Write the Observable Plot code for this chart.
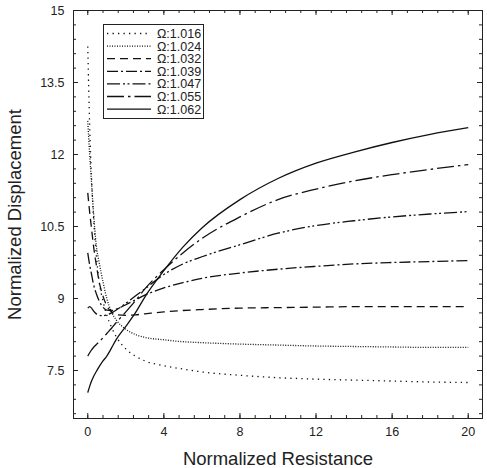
<!DOCTYPE html>
<html>
<head>
<meta charset="utf-8">
<script src="https://cdn.jsdelivr.net/npm/d3@7"></script>
<script src="https://cdn.jsdelivr.net/npm/@observablehq/plot@0.6"></script>
<style>
  html, body { margin: 0; padding: 0; background: #fff; }
  #wrap { position: relative; width: 487px; height: 468px; font-family: "Liberation Sans", Arial, Helvetica, sans-serif; }
  #legend { position: absolute; left: 103px; top: 24px; }
</style>
</head>
<body>
<div id="wrap"><div id="chart"></div><div id="legend"></div></div>
<script>
// ---- data ----
const resistance = [0, 0.1, 0.2, 0.3, 0.45, 0.6, 0.8, 1, 1.25, 1.5, 2, 2.5, 3, 4, 5, 6, 8, 10, 12, 14, 16, 18, 20];
const omegas = ["1.016", "1.024", "1.032", "1.039", "1.047", "1.055", "1.062"];
const disp1016 = [14.25, 12.6, 11.5, 10.7, 9.9, 9.35, 8.95, 8.65, 8.4, 8.2, 7.95, 7.8, 7.7, 7.6, 7.53, 7.47, 7.4, 7.35, 7.32, 7.3, 7.28, 7.26, 7.25];
const disp1024 = [12.7, 12.0, 11.4, 10.8, 10.1, 9.75, 9.35, 9.0, 8.72, 8.55, 8.36, 8.25, 8.19, 8.14, 8.1, 8.08, 8.05, 8.03, 8.01, 8.0, 7.99, 7.98, 7.98];
const disp1032 = [11.2, 10.8, 10.45, 10.1, 9.7, 9.35, 9.05, 8.85, 8.72, 8.66, 8.65, 8.66, 8.68, 8.72, 8.75, 8.77, 8.8, 8.81, 8.82, 8.83, 8.83, 8.83, 8.83];
const disp1039 = [9.95, 9.7, 9.5, 9.3, 9.1, 8.95, 8.82, 8.76, 8.75, 8.78, 8.87, 8.97, 9.07, 9.22, 9.33, 9.42, 9.53, 9.61, 9.67, 9.72, 9.75, 9.77, 9.79];
const disp1047 = [8.8, 8.83, 8.8, 8.74, 8.68, 8.65, 8.64, 8.66, 8.7, 8.76, 8.9, 9.05, 9.2, 9.5, 9.72, 9.87, 10.12, 10.36, 10.52, 10.62, 10.7, 10.76, 10.81];
const disp1055 = [7.8, 7.87, 7.93, 7.98, 8.04, 8.1, 8.18, 8.27, 8.38, 8.5, 8.72, 8.95, 9.2, 9.6, 9.95, 10.25, 10.7, 11.06, 11.28, 11.45, 11.58, 11.69, 11.79];
const disp1062 = [7.04, 7.17, 7.28, 7.37, 7.48, 7.58, 7.7, 7.8, 7.97, 8.15, 8.42, 8.7, 9.03, 9.58, 10.07, 10.47, 11.06, 11.5, 11.82, 12.05, 12.25, 12.42, 12.56];
const series = [disp1016, disp1024, disp1032, disp1039, disp1047, disp1055, disp1062];
const xTicks = [0, 4, 8, 12, 16, 20];
const yTicks = [7.5, 9, 10.5, 12, 13.5, 15];
const xTickLabels = ["0", "4", "8", "12", "16", "20"];
const yTickLabels = ["7.5", "9", "10.5", "12", "13.5", "15"];

// ---- styles ----
const dashes = ["1.3,4.2", "1,1.5", "8,5", "11,3,2,3", "13,3,2,2.5,2,3", "17,4,2.5,4", null];
const FONT = '"Liberation Sans", Arial, Helvetica, sans-serif';
const W = 487, H = 468, mL = 73, mR = 5, mT = 10, mB = 50;
const xDom = [-0.75, 20.75], yDom = [6.5, 15];
const pxX = (xDom[1] - xDom[0]) / (W - mL - mR);
const pxY = (yDom[1] - yDom[0]) / (H - mT - mB);
const xMinor = d3.range(0, 20.001, 0.8).filter(v => v > xDom[0] && v < xDom[1]);
const yMinor = d3.range(6.6, 15.001, 0.3).filter(v => v > yDom[0] && v < yDom[1]);

const rowsFor = i => resistance.map((r, j) => ({r, d: series[i][j]}));

const lineMarks = series.map((s, i) => Plot.line(rowsFor(i), {
  x: "r", y: "d", curve: "monotone-x", stroke: "#111", strokeWidth: 1.3,
  strokeDasharray: dashes[i] || undefined, strokeLinecap: "butt"
}));

const tickMarks = [
  Plot.ruleX(xTicks, {y1: yDom[0], y2: yDom[0] + 5 * pxY, stroke: "#222"}),
  Plot.ruleX(xTicks, {y1: yDom[1], y2: yDom[1] - 5 * pxY, stroke: "#222"}),
  Plot.ruleX(xMinor, {y1: yDom[0], y2: yDom[0] + 3 * pxY, stroke: "#222"}),
  Plot.ruleX(xMinor, {y1: yDom[1], y2: yDom[1] - 3 * pxY, stroke: "#222"}),
  Plot.ruleY(yTicks, {x1: xDom[0], x2: xDom[0] + 5 * pxX, stroke: "#222"}),
  Plot.ruleY(yTicks, {x1: xDom[1], x2: xDom[1] - 5 * pxX, stroke: "#222"}),
  Plot.ruleY(yMinor, {x1: xDom[0], x2: xDom[0] + 3 * pxX, stroke: "#222"}),
  Plot.ruleY(yMinor, {x1: xDom[1], x2: xDom[1] - 3 * pxX, stroke: "#222"})
];

const chart = Plot.plot({
  width: W, height: H,
  marginLeft: mL, marginRight: mR, marginTop: mT, marginBottom: mB,
  style: {fontFamily: FONT, fontSize: "12.5px", color: "#222", background: "#fff"},
  x: {domain: xDom},
  y: {domain: yDom},
  marks: [
    ...lineMarks,
    ...tickMarks,
    Plot.frame({stroke: "#222", strokeWidth: 1}),
    Plot.axisX(xTicks, {tickSize: 0, tickPadding: 9, label: null, tickFormat: (d, i) => xTickLabels[i], fontSize: 12.5}),
    Plot.axisY(yTicks, {tickSize: 0, tickPadding: 9, label: null, tickFormat: (d, i) => yTickLabels[i], fontSize: 12.5}),
    Plot.text(["Normalized Resistance"], {frameAnchor: "bottom", textAnchor: "middle", dy: 46, text: d => d, fontSize: 18.5, fill: "#222", style: "word-spacing: 5px"}),
    Plot.text(["Normalized Displacement"], {frameAnchor: "left", textAnchor: "middle", dx: -58, rotate: -90, text: d => d, fontSize: 18.5, fill: "#222", style: "word-spacing: 5px"})
  ]
});
document.getElementById("chart").appendChild(chart);

// ---- legend (overlay box inside plot area) ----
const lg = d3.select("#legend").append("svg").attr("width", 101).attr("height", 95)
  .style("font-family", FONT);
lg.append("rect").attr("x", 0.5).attr("y", 0.5).attr("width", 100).attr("height", 94)
  .attr("fill", "#fff").attr("stroke", "#222");
omegas.forEach((o, i) => {
  const yy = 9.5 + i * 12.6;
  lg.append("line").attr("x1", 4).attr("x2", 48).attr("y1", yy).attr("y2", yy)
    .attr("stroke", "#111").attr("stroke-width", 1.3)
    .attr("stroke-dasharray", dashes[i]);
  lg.append("text").attr("x", 54).attr("y", yy).attr("dy", "0.36em")
    .attr("font-size", 12.5).attr("fill", "#222").text("Ω:" + o);
});
</script>
</body>
</html>
